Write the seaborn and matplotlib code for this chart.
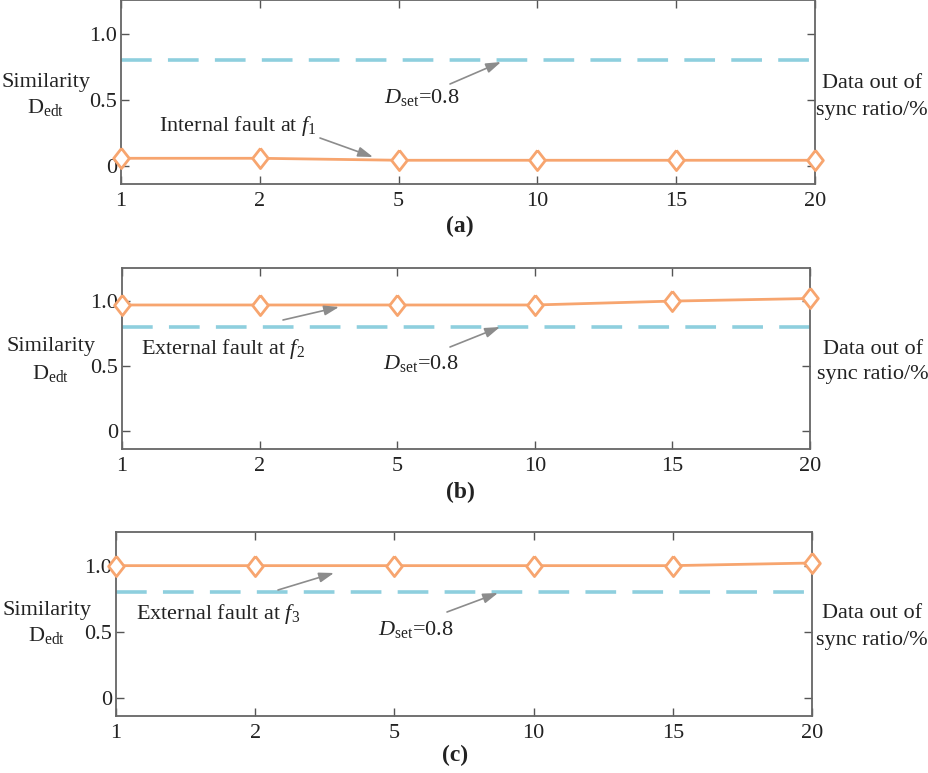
import numpy as np
import pandas as pd
import matplotlib
matplotlib.use("Agg")
import matplotlib.pyplot as plt
import seaborn as sns

# ---- data ----
ratio_labels = ["1", "2", "5", "10", "15", "20"]
sim_a = [0.055, 0.055, 0.04, 0.04, 0.04, 0.04]
sim_b = [0.97, 0.97, 0.97, 0.97, 1.00, 1.02]
sim_c = [1.00, 1.00, 1.00, 1.00, 1.00, 1.02]
d_set = 0.8
fault_texts = [r"Internal fault at $\mathit{f}_{1}$",
               r"External fault at $\mathit{f}_{2}$",
               r"External fault at $\mathit{f}_{3}$"]
panel_tags = ["(a)", "(b)", "(c)"]
ytick_vals = [0, 0.5, 1.0]
ytick_labels = ["0", "0.5", "1.0"]

sns.set_theme(style="white")
plt.rcParams["font.family"] = ["Liberation Serif", "DejaVu Serif"]
plt.rcParams["mathtext.fontset"] = "custom"
plt.rcParams["mathtext.rm"] = "Liberation Serif"
plt.rcParams["mathtext.it"] = "Liberation Serif:italic"
plt.rcParams["mathtext.bf"] = "Liberation Serif:bold"

W, H = 929, 773
fig = plt.figure(figsize=(W / 100, H / 100), dpi=100)

# axes boxes in pixel coords: left, right, top, bottom
boxes = [(121, 815, 0, 184), (122, 810, 268, 449), (116, 812, 532, 716)]
TXT = "#222222"
ORANGE = "#F7A56F"
BLUE = "#8ECFDE"
ARROW = "#8C8C8C"
FS = 16

def fp(x, y):
    return (x, H - y)

# annotation pixel positions per panel
fault_text_pos = [(238, 126), (223, 349), (218, 614)]
fault_arrows = [((320, 138), (373, 157)), ((283, 320), (339, 307)), ((278, 590), (334, 573))]
dset_text_pos = [(422, 98), (421, 363), (416, 630)]
dset_arrows = [((450, 84), (501, 62)), ((450, 347), (500, 327)), ((447, 612), (498, 593))]
ylab_pos = [(46, 82, 107), (51, 347, 373), (47, 610, 636)]
xlab_pos = [(872, 84, 111), (873, 349, 375), (872, 613, 640)]
tag_pos = [(460, 226), (460, 492), (455, 755)]

marker_verts = [(0, 1), (0.78, 0), (0, -1), (-0.78, 0), (0, 1)]

for i, (series, box) in enumerate(zip([sim_a, sim_b, sim_c], boxes)):
    l, r, t, b = box
    ax = fig.add_axes([l / W, 1 - b / H, (r - l) / W, (b - t) / H])
    df = pd.DataFrame({"pos": np.arange(len(ratio_labels)), "sim": series})
    ax.axhline(d_set, color=BLUE, lw=2.6, dashes=(8.5, 4.5), zorder=1)
    sns.lineplot(data=df, x="pos", y="sim", ax=ax, color=ORANGE, lw=2.0,
                 marker=marker_verts, markersize=14.5, markeredgewidth=2.0,
                 markerfacecolor="white", markeredgecolor=ORANGE, clip_on=False, zorder=3)
    ax.set_xlim(0, len(ratio_labels) - 1)
    ax.set_ylim(-0.14, 1.255)
    ax.set_xticks(np.arange(len(ratio_labels)))
    ax.set_xticklabels(ratio_labels)
    ax.set_yticks(ytick_vals)
    ax.set_yticklabels(ytick_labels)
    ax.set_xlabel("")
    ax.set_ylabel("")
    ax.tick_params(direction="in", length=6, width=1.0, color="#555555",
                   labelsize=FS, labelcolor=TXT, top=True, right=True,
                   bottom=True, left=True, pad=3)
    ax.tick_params(axis="x", pad=6)
    for s in ax.spines.values():
        s.set_color("#666666")
        s.set_linewidth(1.3)
        s.set_visible(True)

    # annotations
    fx, fy = fault_text_pos[i]
    fig.text(fx / W, 1 - fy / H, fault_texts[i], fontsize=FS, color=TXT,
             ha="center", va="center")
    (x0, y0), (x1, y1) = fault_arrows[i]
    ax.annotate("", xy=fp(x1, y1), xycoords="figure pixels",
                xytext=fp(x0, y0), textcoords="figure pixels",
                arrowprops=dict(arrowstyle="-|>,head_length=0.75,head_width=0.25",
                                color=ARROW, lw=1.2, shrinkA=0, shrinkB=0))
    tx, ty = dset_text_pos[i]
    fig.text(tx / W, 1 - ty / H, r"$\mathit{D}_{\mathrm{set}}$=0.8", fontsize=FS,
             color=TXT, ha="center", va="center")
    (x0, y0), (x1, y1) = dset_arrows[i]
    ax.annotate("", xy=fp(x1, y1), xycoords="figure pixels",
                xytext=fp(x0, y0), textcoords="figure pixels",
                arrowprops=dict(arrowstyle="-|>,head_length=0.75,head_width=0.25",
                                color=ARROW, lw=1.2, shrinkA=0, shrinkB=0))

    # axis labels
    yx, yy1, yy2 = ylab_pos[i]
    fig.text(yx / W, 1 - yy1 / H, "Similarity", fontsize=FS, color=TXT, ha="center", va="center")
    fig.text(yx / W, 1 - yy2 / H, r"D$_{\mathrm{edt}}$", fontsize=FS, color=TXT, ha="center", va="center")
    xx, xy1, xy2 = xlab_pos[i]
    fig.text(xx / W, 1 - xy1 / H, "Data out of", fontsize=FS, color=TXT, ha="center", va="center")
    fig.text(xx / W, 1 - xy2 / H, "sync ratio/%", fontsize=FS, color=TXT, ha="center", va="center")
    px, py = tag_pos[i]
    fig.text(px / W, 1 - py / H, panel_tags[i], fontsize=17, fontweight="bold",
             color=TXT, ha="center", va="center")

fig.savefig("out.png", dpi=100)
